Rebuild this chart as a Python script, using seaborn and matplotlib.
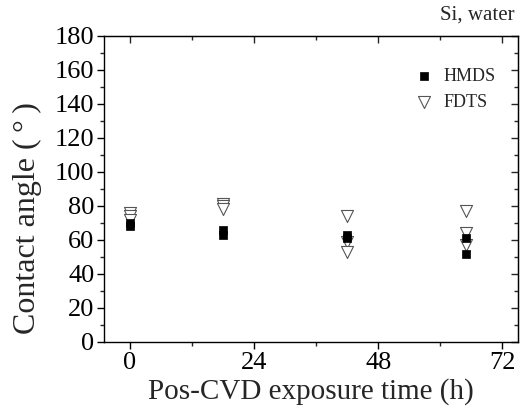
import matplotlib
matplotlib.use("Agg")
import matplotlib.pyplot as plt
from matplotlib.ticker import MultipleLocator
import seaborn as sns
import pandas as pd

# Contact angle measurements (degrees) after CVD, by exposure time (h)
hmds_time = [0, 0, 18, 18, 42, 42, 65, 65]
hmds_angle = [68, 70, 66, 63, 63, 61, 61, 52]
fdts_time = [0, 0, 0, 18, 18, 18, 42, 42, 42, 65, 65, 65]
fdts_angle = [76, 74, 72, 81, 80, 78, 74, 59, 53, 77, 64, 57]
x_ticks = [0, 24, 48, 72]
y_ticks = [0, 20, 40, 60, 80, 100, 120, 140, 160, 180]

df = pd.DataFrame({
    "time": hmds_time + fdts_time,
    "angle": hmds_angle + fdts_angle,
    "coating": ["HMDS"] * len(hmds_time) + ["FDTS"] * len(fdts_time),
})

sns.set_style("ticks")
plt.rcParams["font.family"] = ["Liberation Serif", "DejaVu Serif"]

fig = plt.figure(figsize=(5.21, 4.16), dpi=100)
ax = fig.add_axes([0.1996, 0.1779, 0.9942 - 0.1996, 0.9135 - 0.1779])

sns.scatterplot(
    data=df[df.coating == "FDTS"], x="time", y="angle", ax=ax,
    marker="v", s=75, facecolor="white", edgecolor="#555555", linewidth=0.8,
    label="FDTS", zorder=2,
)
sns.scatterplot(
    data=df[df.coating == "HMDS"], x="time", y="angle", ax=ax,
    marker="s", s=38, color="black", edgecolor="black", linewidth=0.5,
    label="HMDS", zorder=3,
)

ax.set_xlim(-5, 75)
ax.set_ylim(0, 180)
ax.set_xticks(x_ticks)
ax.set_yticks(y_ticks)
ax.xaxis.set_minor_locator(MultipleLocator(12))
ax.yaxis.set_minor_locator(MultipleLocator(10))
ax.tick_params(axis="both", which="major", direction="out", length=5, width=1,
               labelsize=19, pad=2, colors="black")
ax.tick_params(axis="both", which="minor", direction="out", length=3, width=1)

# mirrored inward ticks on the top and right spines
top = ax.secondary_xaxis("top")
top.set_xticks(x_ticks)
top.xaxis.set_minor_locator(MultipleLocator(12))
top.tick_params(which="major", direction="in", length=5, width=1, labeltop=False)
top.tick_params(which="minor", direction="in", length=3, width=1)
right = ax.secondary_yaxis("right")
right.set_yticks(y_ticks)
right.yaxis.set_minor_locator(MultipleLocator(10))
right.tick_params(which="major", direction="in", length=5, width=1, labelright=False)
right.tick_params(which="minor", direction="in", length=3, width=1)

for sp in ax.spines.values():
    sp.set_visible(True)
    sp.set_linewidth(1)
    sp.set_color("black")

ax.set_xlabel("Pos-CVD exposure time (h)", fontsize=21, labelpad=3)
ax.set_ylabel("Contact angle (\u2009°\u2009)", fontsize=23)
ax.yaxis.set_label_coords(-0.15, 0.405)

handles, labels = ax.get_legend_handles_labels()
order = [labels.index("HMDS"), labels.index("FDTS")]
ax.legend([handles[i] for i in order], [labels[i] for i in order],
          loc="upper right", bbox_to_anchor=(0.985, 0.95), frameon=False,
          fontsize=13, handletextpad=0.3, labelspacing=0.5, handlelength=1.6)

fig.text(0.987, 0.965, "Si, water", ha="right", va="center", fontsize=15)

fig.savefig("out.png", dpi=100)
